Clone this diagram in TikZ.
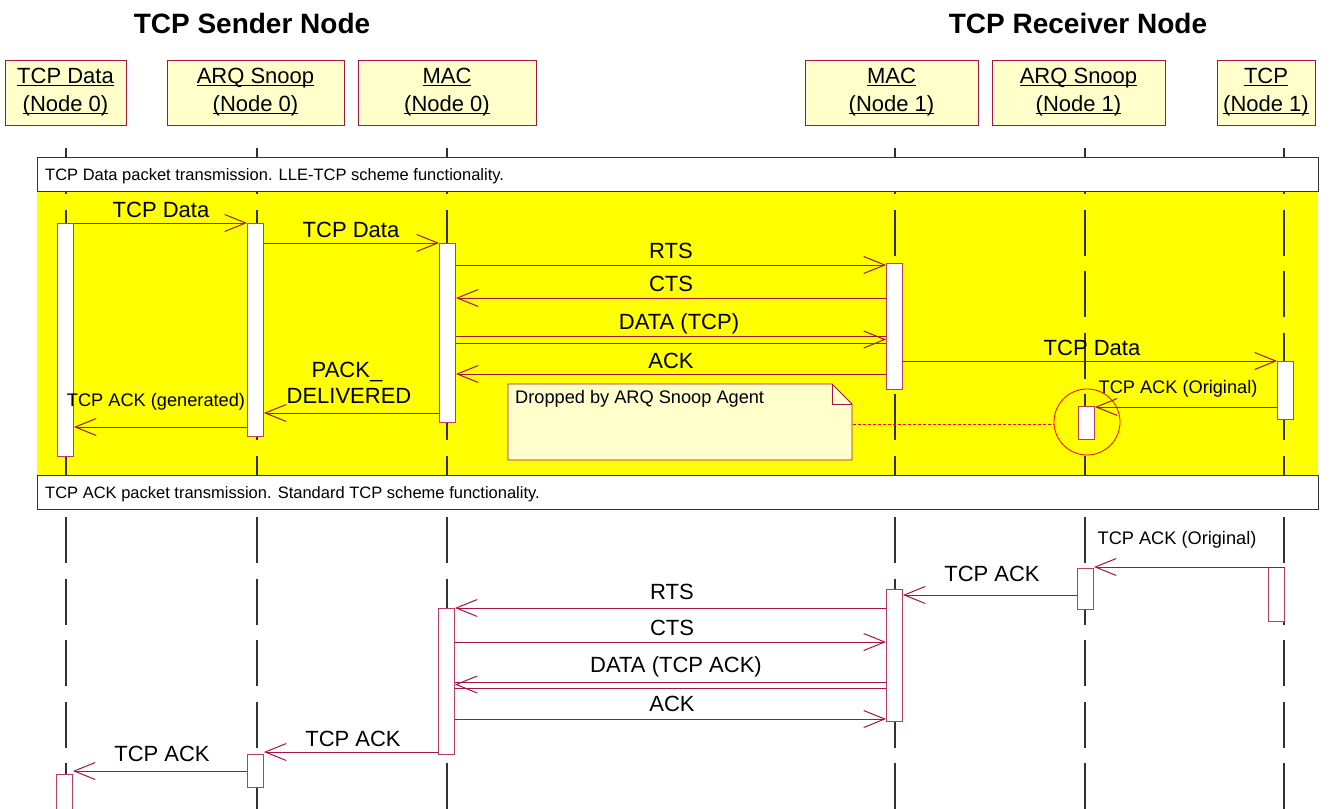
\documentclass[tikz,border=0pt]{standalone}
\usepackage{fontspec}
\setmainfont{Liberation Sans}
\usetikzlibrary{arrows.meta,calc}
\definecolor{crim}{RGB}{165,20,70}
\definecolor{actb}{RGB}{190,60,100}
\definecolor{hdrfill}{RGB}{255,255,204}
\definecolor{ylw}{RGB}{255,255,0}
\definecolor{lifec}{RGB}{50,50,50}
\newcommand\myul[1]{\setbox0\hbox{#1}\rlap{\rule[-2.5pt]{\wd0}{1.1pt}}\box0}
\begin{document}
\begin{tikzpicture}[x=1pt,y=-1pt,
  hdr/.style={draw=crim, fill=hdrfill, line width=0.9pt, inner sep=0pt, align=center, font=\fontsize{22}{28}\selectfont},
  ttl/.style={font=\fontsize{28}{32}\selectfont\bfseries, anchor=base, inner sep=0pt},
  life/.style={draw=lifec, line width=1.2pt, dash pattern=on 46pt off 15.5pt},
  frm/.style={draw=black!80, fill=white, line width=1.1pt, anchor=north west, inner sep=0pt},
  ftxt/.style={font=\fontsize{16.5}{20}\selectfont, anchor=base west, inner sep=0pt},
  act/.style={draw=actb, fill=white, line width=0.9pt, inner sep=0pt, minimum width=16pt, anchor=north west},
  msg/.style={draw=crim, line width=1pt},
  arr/.style={msg, -{Straight Barb[length=21pt,width=17pt]}},
  lbl/.style={font=\fontsize{22}{26}\selectfont, anchor=base, inner sep=0pt},
  slbl/.style={font=\fontsize{18.2}{22}\selectfont, anchor=base, inner sep=0pt},
]
\useasboundingbox (0,0) rectangle (1335,808);

% titles
\node[ttl] (tsend) at (252,34) {TCP Sender Node};
\node[ttl] (trecv) at (1078,34) {TCP Receiver Node};

% header boxes
\node[hdr, minimum width=121pt, minimum height=65pt] (h0) at (65.5,92.5) {\myul{TCP Data}\\\myul{(Node 0)}};
\node[hdr, minimum width=177pt, minimum height=65pt] (h1) at (255.5,92.5) {\myul{ARQ Snoop}\\\myul{(Node 0)}};
\node[hdr, minimum width=178pt, minimum height=65pt] (h2) at (447,92.5) {\myul{MAC}\\\myul{(Node 0)}};
\node[hdr, minimum width=173pt, minimum height=65pt] (h3) at (891.5,92.5) {\myul{MAC}\\\myul{(Node 1)}};
\node[hdr, minimum width=173pt, minimum height=65pt] (h4) at (1078.5,92.5) {\myul{ARQ Snoop}\\\myul{(Node 1)}};
\node[hdr, minimum width=98pt, minimum height=65pt] (h5) at (1266,92.5) {\myul{TCP}\\\myul{(Node 1)}};

% yellow combined fragment
\fill[ylw] (37,191) rectangle (1318,475);

% lifelines
\coordinate (l0) at (66,148);
\coordinate (l1) at (257,148);
\coordinate (l2) at (447,148);
\coordinate (l3) at (895,148);
\coordinate (l4) at (1085,148);
\coordinate (l5) at (1284,148);
\foreach \l in {l0,l1,l2,l3,l4,l5}{
  \draw[life] (\l) -- ($(\l)+(0,670)$);
}

% frame headers
\node[frm, minimum width=1281pt, minimum height=34pt] (f1) at (37,157) {};
\node[ftxt] (f1t) at (45,180) {TCP Data packet transmission. LLE-TCP scheme functionality.};
\node[frm, minimum width=1281pt, minimum height=34pt] (f2) at (37,475) {};
\node[ftxt] (f2t) at (45,498) {TCP ACK packet transmission. Standard TCP scheme functionality.};

% ---------- section 1 ----------
\node[act, minimum height=233pt] (a0) at (57,223) {};
\node[act, minimum height=213pt] (a1) at (247,223) {};
\node[act, minimum height=179pt] (a2) at (439,243) {};
\node[act, minimum height=126pt] (a3) at (886,263) {};
\node[act, minimum height=58pt] (a5) at (1277,361) {};
\node[act, minimum height=33pt] (a4) at (1078,406) {};

\draw[arr] (a0.east |- 0,223) -- (a1.west |- 0,223);
\node[lbl] (m1) at (161,217) {TCP Data};
\draw[arr] (a1.east |- 0,243) -- (a2.west |- 0,243);
\node[lbl] (m2) at (351,237) {TCP Data};
\draw[arr] (a2.east |- 0,265) -- (a3.west |- 0,265);
\node[lbl] (m3) at (671,258) {RTS};
\draw[arr] (a3.west |- 0,298) -- (a2.east |- 0,298);
\node[lbl] (m4) at (671,291) {CTS};
\draw[msg] (a2.east |- 0,336) -- (a3.west |- 0,336);
\draw[msg] (a2.east |- 0,343) -- (a3.west |- 0,343);
\draw[arr] ($(a3.west |- 0,339.5)+(-2,0)$) -- (a3.west |- 0,339.5);
\node[lbl] (m5) at (679,329) {DATA (TCP)};
\draw[arr] (a3.west |- 0,374) -- (a2.east |- 0,374);
\node[lbl] (m6) at (671,368) {ACK};
\draw[arr] (a3.east |- 0,361) -- (a5.west |- 0,361);
\node[lbl] (m7) at (1092,355) {TCP Data};
\draw[arr] (a5.west |- 0,407) -- (a4.east |- 0,407);
\node[slbl] (m8) at (1178,393) {TCP ACK (Original)};
\draw[arr] (a2.west |- 0,413) -- (a1.east |- 0,413);
\node[lbl] (m9a) at (347,377) {PACK\_};
\node[lbl] (m9b) at (349,403) {DELIVERED};
\draw[arr] (a1.west |- 0,427) -- (a0.east |- 0,427);
\node[slbl] (m10) at (156,406) {TCP ACK (generated)};

% note
\coordinate (nNW) at (508,384);
\coordinate (nSE) at (852,460);
\draw[draw=crim, fill=hdrfill, line width=0.9pt]
  (nNW) -- (832,384) -- (852,404) -- (nSE) -- (508,460) -- cycle;
\draw[draw=crim, line width=0.9pt] (832,384) -- (832,404) -- (852,404);
\node[slbl, anchor=base west] (notet) at (515,403) {Dropped by ARQ Snoop Agent};
\coordinate (noteE) at (853,424);
\node[draw=red, circle, minimum size=66pt, inner sep=0pt, line width=0.8pt] (circ) at (1087,422) {};
\draw[red, line width=0.8pt, dash pattern=on 3pt off 2pt] (noteE) -- (circ.west |- noteE);

% ---------- section 2 ----------
\node[act, minimum height=54pt] (b5) at (1268,567) {};
\node[act, minimum height=41pt] (b4) at (1077,568) {};
\node[act, minimum height=132pt] (b3) at (886,589) {};
\node[act, minimum height=146pt] (b2) at (438,608) {};
\node[act, minimum height=33pt] (b1) at (247,754) {};
\node[act, minimum height=40pt] (b0) at (56,774) {};

\draw[arr] (b5.north east) -- (b4.east |- 0,567);
\node[slbl] (n1) at (1177,544) {TCP ACK (Original)};
\draw[arr] (b4.west |- 0,595) -- (b3.east |- 0,595);
\node[lbl] (n2) at (992,581) {TCP ACK};
\draw[arr] (b3.west |- 0,608) -- (b2.east |- 0,608);
\node[lbl] (n3) at (672,599) {RTS};
\draw[arr] (b2.east |- 0,642) -- (b3.west |- 0,642);
\node[lbl] (n4) at (672,635) {CTS};
\draw[msg] (b3.west |- 0,682) -- (b2.east |- 0,682);
\draw[msg] (b3.west |- 0,688) -- (b2.east |- 0,688);
\draw[arr] ($(b2.east |- 0,684.5)+(2,0)$) -- (b2.east |- 0,684.5);
\node[lbl] (n5) at (676,672) {DATA (TCP ACK)};
\draw[arr] (b2.east |- 0,719) -- (b3.west |- 0,719);
\node[lbl] (n6) at (672,711) {ACK};
\draw[arr] (b2.west |- 0,752) -- (b1.east |- 0,752);
\node[lbl] (n7) at (353,746) {TCP ACK};
\draw[arr] (b1.west |- 0,771) -- (b0.east |- 0,771);
\node[lbl] (n8) at (162,761) {TCP ACK};
\end{tikzpicture}
\end{document}
